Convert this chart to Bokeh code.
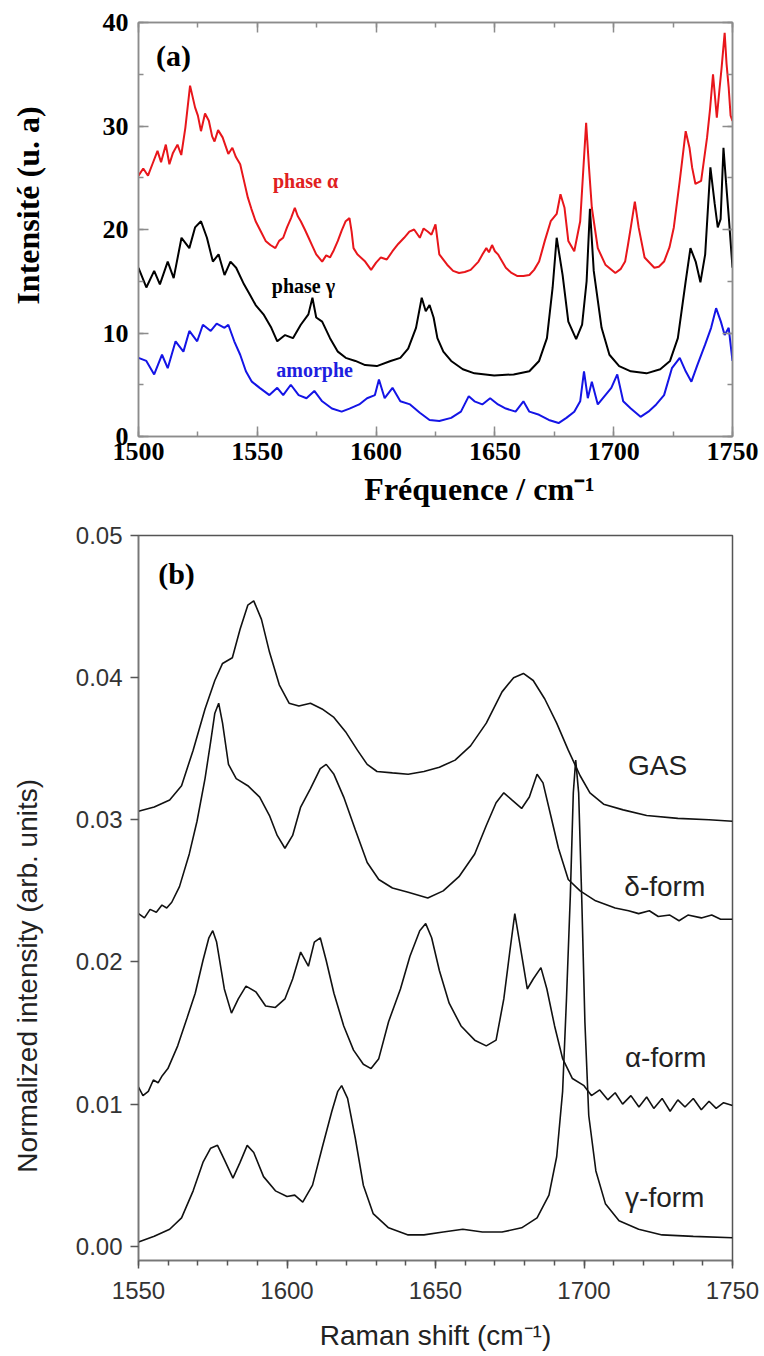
import math
from bokeh.plotting import figure
from bokeh.models import LinearAxis, SingleIntervalTicker, Label, Range1d, NumeralTickFormatter
from bokeh.layouts import column
from bokeh.embed import file_html
from bokeh.resources import INLINE

# ---------------- Panel (a) data ----------------
a_alpha_x = [1500, 1502, 1504, 1506, 1508, 1509.5, 1511.5, 1513, 1514.5, 1516.4, 1518, 1519.7, 1521.7, 1523.8,
             1525, 1526.3, 1528, 1529.6, 1531, 1532, 1533.5, 1535.4, 1537.8, 1539.5, 1541, 1542.8, 1544.5, 1546,
             1547.5, 1549.3, 1551.5, 1553.5, 1555.5, 1557.6, 1559.2, 1560.9, 1562.5, 1564.2, 1565.8, 1567, 1568.3,
             1570, 1571.6, 1573.2, 1574.8, 1577.3, 1579, 1580.6, 1582.2, 1583.9, 1585.5, 1587.2, 1588.8, 1589.7,
             1590.5, 1592.1, 1595.4, 1597.9, 1600, 1602, 1604.5, 1606.9, 1609.3, 1611.8, 1614, 1616, 1618.4, 1620,
             1621.7, 1623.3, 1625, 1626.6, 1629.9, 1632.4, 1634.9, 1637.3, 1639.8, 1643.1, 1644.8, 1646.4, 1647.5,
             1648.8, 1650, 1651.3, 1654.6, 1657, 1659.5, 1662, 1664.5, 1666.5, 1668.6, 1671, 1673.5, 1676, 1677.6,
             1679.3, 1680.9, 1683.4, 1685.9, 1687, 1688.4, 1689.6, 1690.8, 1693.3, 1696.5, 1700.7, 1703, 1704.8,
             1706, 1707.2, 1708.9, 1710.5, 1713, 1717.1, 1719, 1721.2, 1723.5, 1725.3, 1727.8, 1730.3, 1731.9, 1733,
             1734.4, 1736.8, 1739.3, 1740.5, 1741.8, 1743.4, 1744.5, 1745.4, 1746.7, 1747.5, 1748.4, 1749.2, 1750]
a_alpha_y = [25.2, 25.9, 25.2, 26.4, 27.6, 26.5, 28.2, 26.3, 27.4, 28.2, 27.2, 29.8, 33.9, 31.8,
             31.0, 29.5, 31.2, 30.5, 29.0, 28.5, 29.6, 28.9, 27.3, 27.9, 27.0, 26.3, 24.6, 23.1,
             22.0, 20.8, 19.8, 18.9, 18.5, 18.2, 18.9, 19.2, 20.2, 21.1, 22.1, 21.3, 20.8,
             20.0, 19.2, 18.4, 17.6, 16.9, 17.5, 17.3, 18.0, 18.9, 19.9, 20.8, 21.1, 19.8,
             18.2, 17.6, 16.9, 16.1, 16.8, 17.3, 17.1, 17.9, 18.6, 19.2, 19.8, 20.0, 19.2, 20.1,
             19.8, 19.5, 20.5, 17.6, 16.6, 16.0, 15.8, 15.9, 16.1, 16.9, 17.6, 18.2, 17.8,
             18.5, 17.9, 17.6, 16.3, 15.8, 15.5, 15.5, 15.6, 16.1, 16.9, 18.9, 20.8, 21.5, 23.4,
             22.1, 18.9, 17.9, 20.8, 25.0, 30.3, 26.0, 22.1, 18.2, 16.6, 15.8, 16.2, 16.9,
             18.5, 20.2, 22.7, 20.2, 17.3, 16.3, 16.4, 16.9, 18.3, 20.2, 24.7, 29.5, 27.9, 26.0,
             24.4, 24.7, 28.9, 31.5, 35.0, 30.8, 33.5, 35.6, 39.0, 36.0, 33.7, 31.0, 30.5]

a_gamma_x = [1500, 1503.3, 1506.6, 1509, 1512.3, 1514.8, 1518.1, 1521.4, 1523.8, 1526.3, 1528.8, 1531.3, 1533.7,
             1536.2, 1538.7, 1541.1, 1544.4, 1546.9, 1549.3, 1552.6, 1555.9, 1558.4, 1561.7, 1565, 1568.3, 1571.5,
             1573.2, 1574.8, 1577.3, 1580.6, 1583.9, 1587.2, 1591.3, 1595.4, 1600.3, 1606.1, 1610.2, 1613.5,
             1616.8, 1619.2, 1620.9, 1622.5, 1624.2, 1625.8, 1628.3, 1631.6, 1636.5, 1641.4, 1649.7, 1657.9,
             1664.5, 1668.6, 1671.9, 1674.3, 1676, 1678.5, 1680.9, 1684.2, 1686.7, 1688.6, 1690, 1691.6, 1694.9,
             1698.2, 1702.3, 1707.2, 1713.8, 1719.6, 1723.7, 1727, 1730.3, 1732.3, 1734.5, 1736.5, 1738.5,
             1740.7, 1742.5, 1743.8, 1745, 1746.2, 1747.3, 1748.5, 1750]
a_gamma_y = [16.3, 14.4, 16.0, 14.7, 16.9, 15.3, 19.2, 18.2, 20.2, 20.8, 19.2, 16.9, 17.6,
             15.6, 16.9, 16.3, 14.7, 13.7, 12.7, 11.8, 10.5, 9.2, 9.8, 9.5, 10.8, 11.8,
             13.4, 11.5, 11.1, 9.5, 8.2, 7.6, 7.3, 6.9, 6.8, 7.3, 7.6, 8.5,
             10.5, 13.4, 12.1, 12.7, 11.5, 9.5, 8.2, 7.3, 6.5, 6.1, 5.9, 6.0,
             6.3, 7.3, 9.5, 14.4, 19.2, 15.6, 11.1, 9.4, 10.8, 15.0, 22.0, 16.0, 10.5,
             7.9, 6.8, 6.3, 6.1, 6.5, 7.3, 9.5, 15.0, 18.2, 16.9, 14.9, 17.6,
             26.0, 22.5, 20.2, 21.0, 27.9, 24.5, 21.0, 16.3]

a_amorph_x = [1500, 1503.3, 1506.6, 1509.9, 1512.3, 1515.6, 1518.9, 1521.4, 1524.7, 1527.1, 1530.4, 1532.9,
              1536.2, 1537.8, 1540.3, 1542.8, 1545.2, 1547.7, 1551, 1555.1, 1558.4, 1560.9, 1564.1, 1567.4,
              1570.7, 1574, 1577.3, 1581.4, 1585.5, 1588.8, 1592.9, 1596.2, 1599.5, 1601.2, 1603.6, 1606.9,
              1610.2, 1614.3, 1618.4, 1622.5, 1626.6, 1631.6, 1635.7, 1639, 1641.4, 1644.7, 1648, 1651.3,
              1654.6, 1658.7, 1662, 1664.5, 1668.6, 1672.7, 1676.8, 1680.1, 1683.4, 1685.9, 1687.5, 1689.1,
              1690.8, 1693.3, 1696.5, 1699, 1701.5, 1704, 1707.2, 1711.3, 1714.6, 1717.9, 1721.2, 1724.5,
              1727.8, 1730.3, 1732.7, 1735.2, 1738.5, 1741, 1743.1, 1745.1, 1746.7, 1748.4, 1750]
a_amorph_y = [7.6, 7.3, 6.0, 7.9, 6.6, 9.2, 8.2, 10.2, 9.2, 10.8, 10.2, 10.9,
              10.5, 10.8, 9.2, 7.9, 6.3, 5.3, 4.7, 4.0, 4.7, 4.0, 5.0, 4.0,
              3.7, 4.4, 3.4, 2.7, 2.4, 2.7, 3.1, 3.7, 4.0, 5.5, 3.7, 4.7,
              3.4, 3.1, 2.3, 1.6, 1.5, 1.8, 2.4, 3.9, 3.4, 3.1, 3.7, 3.1,
              2.7, 2.4, 3.4, 2.4, 2.1, 1.6, 1.3, 1.8, 2.4, 3.4, 6.3, 3.7,
              5.3, 3.1, 4.0, 4.7, 6.0, 3.4, 2.7, 1.9, 2.4, 3.1, 4.0, 6.6,
              7.6, 6.3, 5.3, 6.9, 8.9, 10.5, 12.4, 11.1, 9.8, 10.5, 7.3]

a_labels = ["phase \u03b1", "phase \u03b3", "amorphe"]
a_xticks_interval = 50
a_yticks_interval = 10

# ---------------- Panel (b) data ----------------
b_gas_x = [1550, 1555.3, 1560.5, 1564.5, 1568.4, 1572.4, 1575.7, 1578.3, 1581.6, 1584.2, 1586.8, 1588.8, 1591.4,
           1594.1, 1597.4, 1600.7, 1604, 1607.9, 1611.8, 1615.8, 1619.7, 1623.7, 1627, 1630.3, 1635.5, 1640.8,
           1646.1, 1651.3, 1656.6, 1661.8, 1667.1, 1672.4, 1676.3, 1679.6, 1682.9, 1686.8, 1690.8, 1694.7,
           1698.7, 1702, 1706.6, 1713.2, 1721.1, 1731.6, 1742.1, 1750]
b_gas_y = [0.0306, 0.0309, 0.0314, 0.0324, 0.0349, 0.0378, 0.0398, 0.0410, 0.0414, 0.0434, 0.0451, 0.0454, 0.0441,
           0.0418, 0.0395, 0.0382, 0.0380, 0.0382, 0.0378, 0.0372, 0.0362, 0.0349, 0.0339, 0.0334, 0.0333, 0.0332,
           0.0334, 0.0337, 0.0342, 0.0352, 0.0368, 0.0390, 0.0400, 0.0403, 0.0398, 0.0385, 0.0368, 0.0349,
           0.0331, 0.0319, 0.0311, 0.0307, 0.0303, 0.0301, 0.0300, 0.0299]

b_delta_x = [1550, 1552, 1553.9, 1556, 1557.9, 1559.5, 1561.2, 1563.8, 1567.1, 1569.7, 1572.4, 1574.3, 1575.7, 1577,
             1578.3, 1580.3, 1582.9, 1586.8, 1590.8, 1594.1, 1596.7, 1599.3, 1601.9, 1604.6, 1607.9, 1611.2,
             1613.2, 1615.8, 1619.1, 1623, 1627, 1630.9, 1635.5, 1640.8, 1647.4, 1652.6, 1657.9, 1663.2,
             1667.1, 1670.4, 1673, 1675.7, 1679, 1681.6, 1684.2, 1686.2, 1688.8, 1691.4, 1694.7, 1698.7, 1703.9,
             1710.5, 1715, 1718.4, 1722, 1725, 1728.9, 1732, 1735, 1739.5, 1743, 1746, 1750]
b_delta_y = [0.0234, 0.0231, 0.0237, 0.0235, 0.0240, 0.0238, 0.0242, 0.0253, 0.0276, 0.0299, 0.0329, 0.0355, 0.0375, 0.0382,
             0.0368, 0.0339, 0.0329, 0.0324, 0.0316, 0.0303, 0.0289, 0.0280, 0.0289, 0.0309, 0.0322, 0.0336,
             0.0339, 0.0332, 0.0316, 0.0293, 0.0270, 0.0258, 0.0252, 0.0249, 0.0245, 0.0250, 0.0260, 0.0276,
             0.0296, 0.0312, 0.0319, 0.0314, 0.0308, 0.0316, 0.0332, 0.0326, 0.0303, 0.0280, 0.0258, 0.0250, 0.0243,
             0.0238, 0.0236, 0.0234, 0.0236, 0.0232, 0.0233, 0.0229, 0.0233, 0.0231, 0.0233, 0.0230, 0.0230]

b_alpha_x = [1550, 1551.5, 1553.3, 1555, 1556.6, 1558, 1559.9, 1563.2, 1566.4, 1569.1, 1571.7, 1573.7, 1575, 1576.3,
             1578.9, 1581.3, 1583.6, 1586.2, 1589.5, 1592.8, 1596.1, 1599.3, 1601.9, 1604.6, 1607.2, 1609.2,
             1611.2, 1613.2, 1615.8, 1619.1, 1622.4, 1625.7, 1628.3, 1630.9, 1634.2, 1638.2, 1641.4, 1644.7,
             1646.7, 1648.7, 1651.3, 1654.6, 1658.6, 1663.2, 1667.1, 1670.4, 1673, 1675, 1676.7, 1678.3, 1680.9,
             1682.9, 1685.5, 1687.5, 1690.1, 1692.8, 1696.1, 1700, 1702.5, 1705.3, 1708, 1710.5, 1713, 1715.8,
             1718.5, 1721.1, 1723.5, 1726.3, 1729, 1731.6, 1734, 1736.8, 1739.5, 1742.1, 1744.5, 1747, 1750]
b_alpha_y = [0.0112, 0.0106, 0.0109, 0.0117, 0.0115, 0.0120, 0.0125, 0.0141, 0.0161, 0.0178, 0.0201, 0.0217, 0.0222, 0.0214,
             0.0181, 0.0164, 0.0174, 0.0183, 0.0179, 0.0169, 0.0168, 0.0174, 0.0188, 0.0207, 0.0197, 0.0214,
             0.0217, 0.0201, 0.0178, 0.0155, 0.0138, 0.0128, 0.0125, 0.0132, 0.0158, 0.0181, 0.0204, 0.0222,
             0.0227, 0.0217, 0.0194, 0.0171, 0.0155, 0.0145, 0.0141, 0.0145, 0.0174, 0.0207, 0.0234, 0.0214, 0.0181,
             0.0188, 0.0196, 0.0181, 0.0155, 0.0132, 0.0118, 0.0113, 0.0106, 0.0110, 0.0103, 0.0108, 0.0100, 0.0106,
             0.0098, 0.0105, 0.0097, 0.0104, 0.0095, 0.0103, 0.0098, 0.0104, 0.0096, 0.0102, 0.0097, 0.0101, 0.0099]

b_gammaf_x = [1550, 1555.3, 1560.5, 1564.5, 1568.4, 1571.7, 1574.3, 1576.6, 1578.9, 1581.8, 1584.2, 1586.6, 1588.8,
              1592.1, 1596.1, 1600, 1602.6, 1605.3, 1608.6, 1611.8, 1615.1, 1617.1, 1618.4, 1620.4, 1623, 1625.7,
              1629, 1634.2, 1640.8, 1646.1, 1652.6, 1659.2, 1665.8, 1672.4, 1679, 1684.2, 1688.2, 1690.8, 1692.8,
              1694.1, 1695.4, 1696.4, 1697.2, 1698.2, 1699.3, 1700.3, 1701.6, 1704, 1707.2, 1711.8, 1718.4,
              1726.3, 1736.8, 1750]
b_gammaf_y = [0.0003, 0.0007, 0.0012, 0.0020, 0.0039, 0.0059, 0.0069, 0.0071, 0.0061, 0.0048, 0.0059, 0.0071, 0.0066,
              0.0049, 0.0039, 0.0035, 0.0036, 0.0031, 0.0043, 0.0069, 0.0095, 0.0109, 0.0113, 0.0104, 0.0076, 0.0043,
              0.0023, 0.0013, 0.0008, 0.0008, 0.0010, 0.0012, 0.0010, 0.0010, 0.0013, 0.0020, 0.0036, 0.0063, 0.0109,
              0.0174, 0.0247, 0.0319, 0.0342, 0.0319, 0.0240, 0.0158, 0.0092, 0.0053, 0.0030, 0.0018, 0.0012,
              0.0008, 0.0007, 0.0006]

b_labels = ["GAS", "\u03b4-form", "\u03b1-form", "\u03b3-form"]

SERIF = "Liberation Serif"
SANS = "Liberation Sans"
NB = "\u00a0"

# ---------------- Panel (a) ----------------
pa = figure(width=764, height=515, x_range=Range1d(1500, 1750), y_range=Range1d(0, 40),
            output_backend="svg", toolbar_location=None,
            min_border_left=138, min_border_right=32, min_border_top=22, min_border_bottom=79)
pa.xgrid.visible = False
pa.ygrid.visible = False
pa.outline_line_color = "#8c8c8c"
pa.outline_line_width = 1.5

bottom_a = pa.below[0]
left_a = pa.left[0]
xt = SingleIntervalTicker(interval=a_xticks_interval, num_minor_ticks=2)
yt = SingleIntervalTicker(interval=a_yticks_interval, num_minor_ticks=2)
bottom_a.ticker = xt
left_a.ticker = yt
top_a = LinearAxis(ticker=xt)
right_a = LinearAxis(ticker=yt)
pa.add_layout(top_a, "above")
pa.add_layout(right_a, "right")
for ax in [bottom_a, left_a, top_a, right_a]:
    ax.axis_line_color = "#8c8c8c"
    ax.axis_line_width = 1.5
    ax.major_tick_line_color = "#8c8c8c"
    ax.minor_tick_line_color = "#8c8c8c"
    ax.major_tick_line_width = 1.5
    ax.minor_tick_line_width = 1.5
    ax.major_tick_in = 10
    ax.major_tick_out = 0
    ax.minor_tick_in = 5
    ax.minor_tick_out = 0
    ax.major_label_text_font = SERIF
    ax.major_label_text_font_style = "bold"
    ax.major_label_text_font_size = "26px"
    ax.major_label_text_color = "black"
for ax in [top_a, right_a]:
    ax.major_label_text_color = None
    ax.major_label_text_font_size = "1px"
    ax.major_label_standoff = 0
bottom_a.major_label_standoff = 6
left_a.major_label_standoff = 10

bottom_a.axis_label = NB * 11 + "Fr\u00e9quence / cm\u207b\u00b9"
bottom_a.axis_label_text_font = SERIF
bottom_a.axis_label_text_font_style = "bold"
bottom_a.axis_label_text_font_size = "32px"
bottom_a.axis_label_text_color = "black"
bottom_a.axis_label_standoff = 8

left_a.axis_label = NB * 6 + "Intensit\u00e9 (u. a)"
left_a.axis_label_text_font = SERIF
left_a.axis_label_text_font_style = "bold"
left_a.axis_label_text_font_size = "32px"
left_a.axis_label_text_color = "black"
left_a.axis_label_standoff = 54

pa.line(a_alpha_x, a_alpha_y, line_color="#e8161b", line_width=2)
pa.line(a_gamma_x, a_gamma_y, line_color="black", line_width=2)
pa.line(a_amorph_x, a_amorph_y, line_color="#1414e6", line_width=2)

def lab(p, x, y, text, font, size, color, bold=False):
    p.add_layout(Label(x=x, y=y, text=text, text_font=font, text_font_size=size,
                       text_font_style="bold" if bold else "normal", text_color=color,
                       text_align="center", text_baseline="middle"))

lab(pa, 1570.3, 24.7, a_labels[0], SERIF, "20px", "#e0201e", True)
lab(pa, 1569.4, 14.5, a_labels[1], SERIF, "20px", "black", True)
lab(pa, 1574.1, 6.4, a_labels[2], SERIF, "20px", "#1e1ee0", True)
lab(pa, 1514.7, 36.8, "(a)", SERIF, "30px", "black", True)

# ---------------- Panel (b) ----------------
pb = figure(width=764, height=841, x_range=Range1d(1550, 1750), y_range=Range1d(-0.001, 0.05),
            output_backend="svg", toolbar_location=None,
            min_border_left=137, min_border_right=31, min_border_top=20, min_border_bottom=96)
pb.xgrid.visible = False
pb.ygrid.visible = False
pb.outline_line_color = "#555555"
pb.outline_line_width = 1.5
bottom_b = pb.below[0]
left_b = pb.left[0]
bottom_b.ticker = SingleIntervalTicker(interval=50, num_minor_ticks=5)
left_b.ticker = SingleIntervalTicker(interval=0.01, num_minor_ticks=0)
left_b.formatter = NumeralTickFormatter(format="0.00")
for ax in [bottom_b, left_b]:
    ax.axis_line_color = "#777777"
    ax.axis_line_width = 1.5
    ax.major_tick_line_color = "#555555"
    ax.minor_tick_line_color = "#555555"
    ax.major_tick_line_width = 1.5
    ax.minor_tick_line_width = 1.5
    ax.major_tick_in = 0
    ax.major_tick_out = 8
    ax.minor_tick_in = 0
    ax.minor_tick_out = 5
    ax.major_label_text_font = SANS
    ax.major_label_text_font_size = "24px"
    ax.major_label_text_color = "#333333"
    ax.axis_label_text_font = SANS
    ax.axis_label_text_font_style = "normal"
    ax.axis_label_text_font_size = "28px"
    ax.axis_label_text_color = "#222222"
bottom_b.major_label_standoff = 13
left_b.major_label_standoff = 8
bottom_b.axis_label = "Raman shift (cm\u207b\u00b9)"
bottom_b.axis_label_standoff = 18
left_b.axis_label = "Normalized intensity (arb. units)" + NB * 20
left_b.axis_label_standoff = 30

for xs, ys in [(b_gas_x, b_gas_y), (b_delta_x, b_delta_y), (b_alpha_x, b_alpha_y), (b_gammaf_x, b_gammaf_y)]:
    pb.line(xs, ys, line_color="#111111", line_width=1.6)

lab(pb, 1724.8, 0.0338, b_labels[0], SANS, "28px", "#222222")
lab(pb, 1727.2, 0.0253, b_labels[1], SANS, "28px", "#222222")
lab(pb, 1727.5, 0.0133, b_labels[2], SANS, "28px", "#222222")
lab(pb, 1727.2, 0.0034, b_labels[3], SANS, "28px", "#222222")
lab(pb, 1562.8, 0.0473, "(b)", SERIF, "30px", "black", True)

layout = column(pa, pb, spacing=0)
open("out.html", "w").write(file_html(layout, INLINE))
